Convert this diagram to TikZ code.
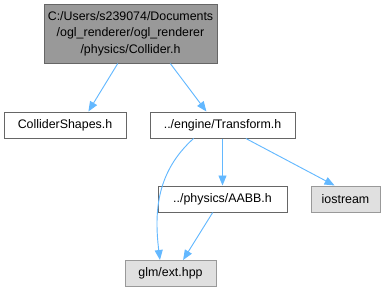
\documentclass[tikz,border=0pt]{standalone}
\usepackage{fontspec}
\setmainfont{Liberation Sans}
\usepackage{tikz}
\usetikzlibrary{positioning,arrows.meta}
\usepackage{xcolor}
\definecolor{edgeblue}{HTML}{63B8FF}
\definecolor{boxline}{HTML}{666666}
\definecolor{sysline}{HTML}{999999}
\definecolor{sysfill}{HTML}{E0E0E0}
\definecolor{rootfill}{HTML}{999999}

\begin{document}
\begin{tikzpicture}[x=0.75pt, y=-0.75pt,
        file/.style={draw=boxline, fill=white, line width=0.75pt, inner sep=0pt, font=\fontsize{9.3}{12.4}\selectfont, minimum height=19.5pt},
        sysfile/.style={file, draw=sysline, fill=sysfill},
        rootfile/.style={file, fill=rootfill, align=center},
        dep/.style={draw=edgeblue, line width=0.7pt, -{Triangle[length=7.5pt, width=6pt]}}]
        \useasboundingbox (0,0) rectangle (388,293);

        % Header being documented
        \node[rootfile, minimum width=129.75pt, minimum height=44.25pt] (collider) at (130.5,33.5)
            {C:/Users/s239074/Documents\\/ogl\_renderer/ogl\_renderer\\/physics/Collider.h};

        % Direct includes
        \node[file, minimum width=91.5pt] (shapes) at (65,125) {ColliderShapes.h};
        \node[file, minimum width=108.75pt] (transform) at (222.5,125) {../engine/Transform.h};

        % Includes of Transform.h
        \node[file, minimum width=96.75pt] (aabb) at (222.5,199) {../physics/AABB.h};
        \node[sysfile, minimum width=51.75pt] (iostream) at (345.5,199) {iostream};
        \node[sysfile, minimum width=68.25pt] (glmext) at (170.5,273.5) {glm/ext.hpp};

        \draw[dep] (collider.247) -- (shapes.30);
        \draw[dep] (collider.323) -- (transform.140);
        \draw[dep] (transform.south) -- (aabb.north);
        \draw[dep] (transform.330) -- (iostream.129);
        \draw[dep] (transform.205) to[out=222, in=97] (glmext.128);
        \draw[dep] (aabb.234) -- (glmext.47);
    \end{tikzpicture}
\end{document}
